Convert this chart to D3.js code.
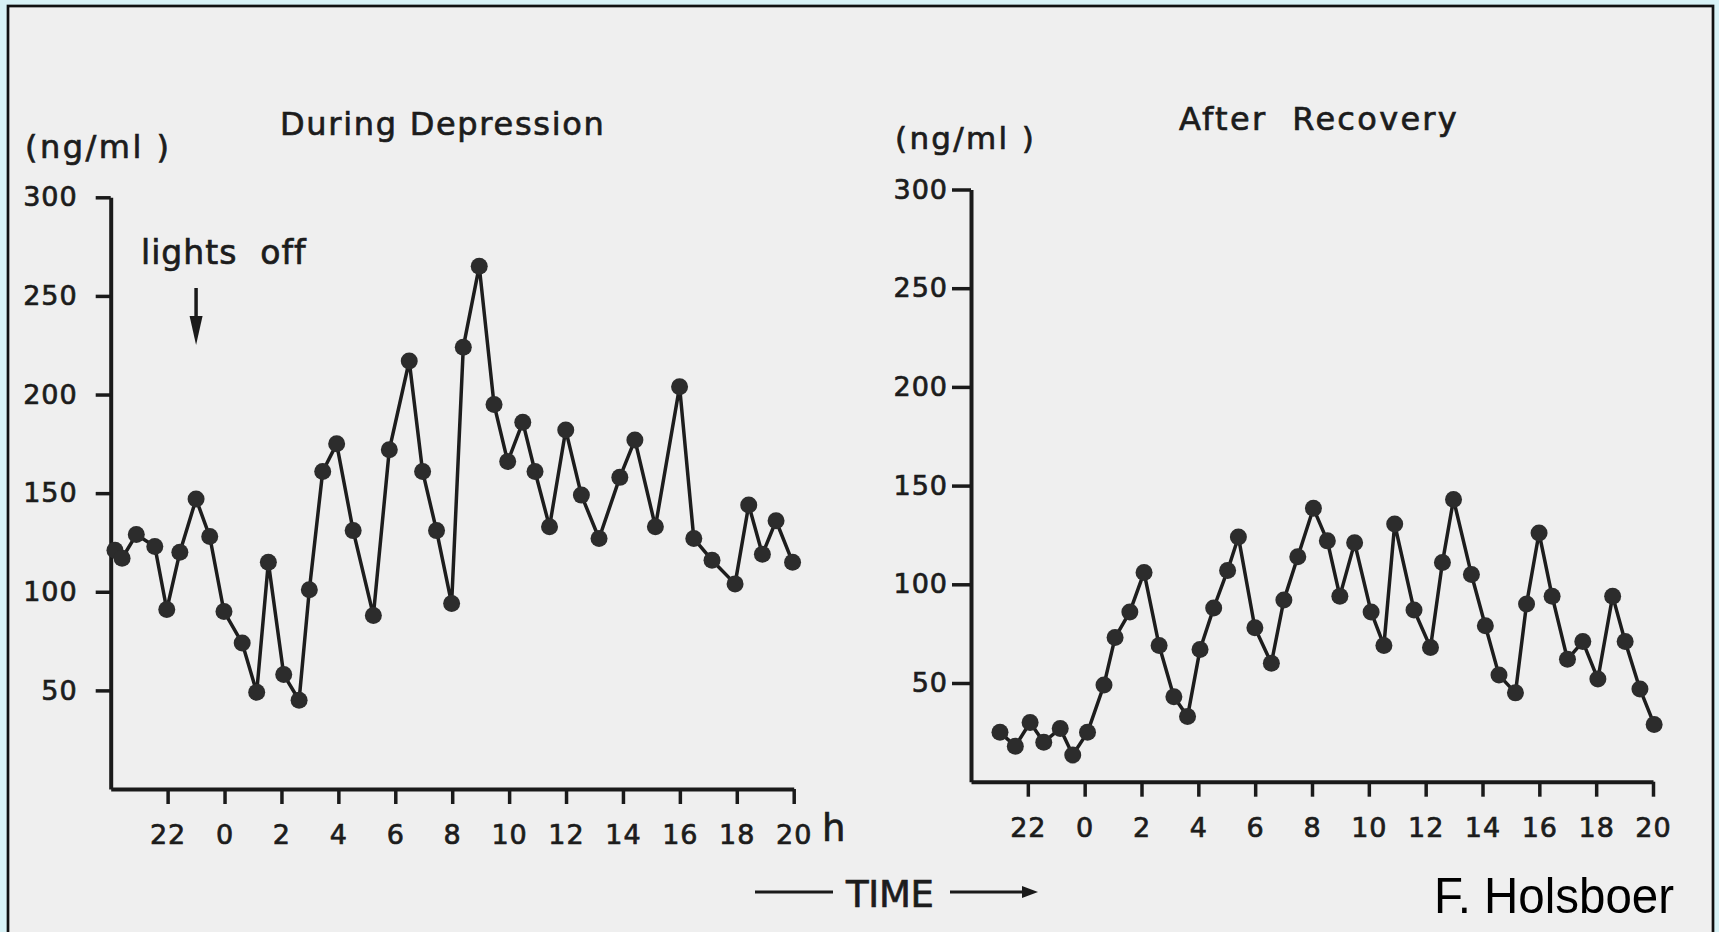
<!DOCTYPE html>
<html>
<head>
<meta charset="utf-8">
<script src="https://cdn.jsdelivr.net/npm/d3@7"></script>
<style>
  html, body { margin: 0; padding: 0; background: #d8f2f6; }
  svg { display: block; }
  .lab { font-family: "DejaVu Sans", sans-serif; fill: #1c1c1c; stroke: #1c1c1c; stroke-width: 0.7px; }
</style>
</head>
<body>
<svg id="chart" width="1719" height="932"></svg>
<script>
// ---- data (hours: 0 = midnight, negative = evening before) ----
const leftHours = [-3.85, -3.6, -3.1, -2.45, -2.03, -1.57, -1.0, -0.52, -0.02, 0.62, 1.13, 1.54, 2.08, 2.62, 2.98, 3.45, 3.94, 4.52, 5.23, 5.79, 6.49, 6.96, 7.45, 7.98, 8.39, 8.95, 9.47, 9.95, 10.48, 10.91, 11.42, 11.99, 12.54, 13.16, 13.89, 14.42, 15.14, 15.99, 16.49, 17.13, 17.94, 18.42, 18.9, 19.38, 19.96];
const leftValues = [121, 117, 129, 123, 91, 120, 147, 128, 90, 74, 49, 115, 58, 45, 101, 161, 175, 131, 88, 172, 217, 161, 131, 94, 224, 265, 195, 166, 186, 161, 133, 182, 149, 127, 158, 177, 133, 204, 127, 116, 104, 144, 119, 136, 115];

const rightHours = [-2.98, -2.44, -1.92, -1.44, -0.86, -0.42, 0.1, 0.68, 1.07, 1.59, 2.09, 2.62, 3.14, 3.62, 4.06, 4.54, 5.03, 5.41, 5.99, 6.57, 7.01, 7.5, 8.05, 8.54, 8.98, 9.5, 10.08, 10.53, 10.91, 11.59, 12.17, 12.59, 12.98, 13.61, 14.1, 14.58, 15.16, 15.55, 15.99, 16.45, 16.99, 17.53, 18.06, 18.58, 19.02, 19.54, 20.04];
const rightValues = [25, 18, 30, 20, 27, 13.5, 25, 49, 73, 86, 106, 69, 43, 33, 67, 88, 107, 124, 78, 60, 92, 114, 138.5, 122, 94, 121, 86, 69, 130.5, 87, 68, 111, 143, 105, 79, 54, 45, 90, 126, 94, 62, 71, 52, 94, 71, 47, 29];

const yTicks = [50, 100, 150, 200, 250, 300];
const xTicks = [-2, 0, 2, 4, 6, 8, 10, 12, 14, 16, 18, 20];
const xTickLabels = ["22", "0", "2", "4", "6", "8", "10", "12", "14", "16", "18", "20"];
const lightsOffHour = -1;

// ---- drawing ----
const svg = d3.select("#chart");
svg.append("rect").attr("x", 8).attr("y", 6).attr("width", 1705).attr("height", 940)
  .attr("fill", "#efefef").attr("stroke", "#111").attr("stroke-width", 2.7);

function panel(opt) {
  const x = d3.scaleLinear().domain([-4, 20]).range([opt.x0, opt.x1]);
  const y = d3.scaleLinear().domain([0, 300]).range([opt.y0, opt.y1]);
  const g = svg.append("g");

  const ya = g.append("g").attr("transform", `translate(${opt.x0},0)`)
    .call(d3.axisLeft(y).tickValues(yTicks).tickSize(opt.ytick).tickPadding(opt.ypad).tickSizeOuter(0));
  const xa = g.append("g").attr("transform", `translate(0,${opt.y0})`)
    .call(d3.axisBottom(x).tickValues(xTicks).tickFormat((d, i) => xTickLabels[i]).tickSize(15).tickPadding(21).tickSizeOuter(0));
  [ya, xa].forEach(a => {
    a.select(".domain").attr("stroke", "#1a1a1a").attr("stroke-width", 4);
    a.selectAll(".tick line").attr("stroke", "#1a1a1a").attr("stroke-width", 3.5);
    a.selectAll(".tick text").attr("class", "lab").style("font-size", "27px").style("letter-spacing", "1px");
  });

  const line = d3.line().x((d, i) => x(opt.hours[i])).y(d => y(d));
  g.append("path").datum(opt.values).attr("d", line)
    .attr("fill", "none").attr("stroke", "#1d1d1d").attr("stroke-width", 3.5).attr("stroke-linejoin", "round");
  g.selectAll("circle").data(opt.values).enter().append("circle")
    .attr("cx", (d, i) => x(opt.hours[i])).attr("cy", d => y(d)).attr("r", 8.5).attr("fill", "#2c2c2c");
  return { x, y, g };
}

const L = panel({ x0: 110.7, x1: 793.7, y0: 789, y1: 197.3, ytick: 15, ypad: 18, hours: leftHours, values: leftValues });
const R = panel({ x0: 971, x1: 1653, y0: 781.7, y1: 189.5, ytick: 19, ypad: 4, hours: rightHours, values: rightValues });

// titles & units
svg.append("text").attr("class", "lab").attr("x", 280).attr("y", 135).style("font-size", "32px").style("letter-spacing", "1.7px").text("During Depression");
svg.append("text").attr("class", "lab").attr("x", 1179).attr("y", 130).style("font-size", "32px").style("letter-spacing", "2.3px").attr("xml:space", "preserve").text("After  Recovery");
svg.append("text").attr("class", "lab").attr("x", 25).attr("y", 158).style("font-size", "32px").style("letter-spacing", "2.5px").attr("xml:space", "preserve").text("(ng/ml )");
svg.append("text").attr("class", "lab").attr("x", 895).attr("y", 149).style("font-size", "31px").style("letter-spacing", "2.3px").attr("xml:space", "preserve").text("(ng/ml )");

// "h" unit
svg.append("text").attr("class", "lab").attr("x", 822).attr("y", 841).style("font-size", "37px").text("h");

// lights off
svg.append("text").attr("class", "lab").attr("x", 141).attr("y", 264).style("font-size", "33px").style("letter-spacing", "1px").attr("xml:space", "preserve").text("lights  off");
const ax = L.x(lightsOffHour);
svg.append("line").attr("x1", ax).attr("x2", ax).attr("y1", 288).attr("y2", 322).attr("stroke", "#1a1a1a").attr("stroke-width", 3.5);
svg.append("path").attr("d", `M${ax - 6.5},316 L${ax + 6.5},316 L${ax},345 Z`).attr("fill", "#1a1a1a");

// TIME
svg.append("line").attr("x1", 755).attr("x2", 833).attr("y1", 892).attr("y2", 892).attr("stroke", "#1a1a1a").attr("stroke-width", 3.2);
svg.append("text").attr("class", "lab").attr("x", 846).attr("y", 907).style("font-size", "37px").attr("textLength", 88).text("TIME");
svg.append("line").attr("x1", 950).attr("x2", 1026).attr("y1", 892).attr("y2", 892).attr("stroke", "#1a1a1a").attr("stroke-width", 3.2);
svg.append("path").attr("d", "M1022,886 L1038,892 L1022,898 Z").attr("fill", "#1a1a1a");

// credit
svg.append("text").attr("x", 1434).attr("y", 913).style("font-family", "'Liberation Sans', Arial, sans-serif")
  .style("font-size", "50px").attr("fill", "#000").attr("textLength", 240).attr("lengthAdjust", "spacingAndGlyphs").text("F. Holsboer");
</script>
</body>
</html>
